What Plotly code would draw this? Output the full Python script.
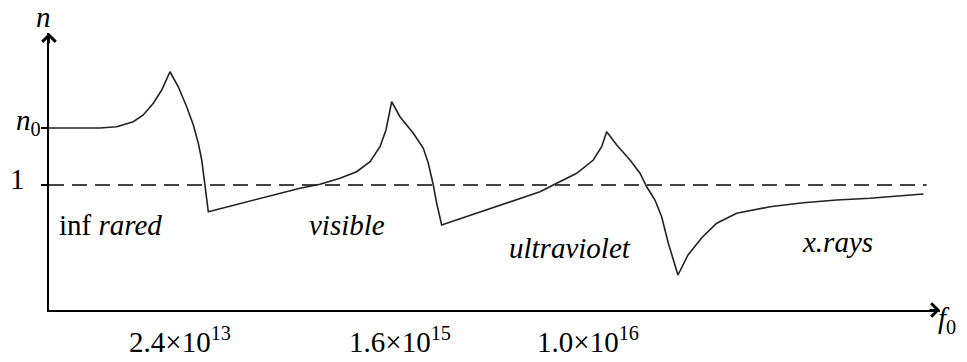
import plotly.graph_objects as go

# ---- data (arbitrary frequency units, refractive index n) ----
freq = [0, 5.72, 7.60, 9.46, 10.58, 11.71, 12.65, 13.58,
        14.51, 15.45, 16.20, 16.76, 17.14, 17.51, 17.88,
        28.17, 30.42, 32.66, 34.53, 36.03, 37.15, 37.82, 38.46,
        39.39, 40.89, 42.01, 42.57, 43.13, 43.51, 44.07,
        55.11, 56.98, 59.23, 61.09, 62.03, 62.59,
        63.72, 65.21, 66.33, 67.08, 68.01, 68.76, 69.51, 70.59,
        71.72, 73.29, 74.94, 77.18, 80.92, 84.66, 88.40, 92.14, 95.88, 98.13]
n_vals = [1.456, 1.456, 1.466, 1.506, 1.560, 1.654, 1.760, 1.906,
          1.786, 1.626, 1.480, 1.334, 1.200, 1.000, 0.786,
          0.974, 1.006, 1.054, 1.106, 1.186, 1.306, 1.440, 1.666,
          1.546, 1.414, 1.294, 1.174, 1.000, 0.854, 0.680,
          0.946, 1.014, 1.094, 1.200, 1.306, 1.426,
          1.320, 1.200, 1.094, 0.986, 0.880, 0.746, 0.534, 0.280,
          0.440, 0.580, 0.694, 0.774, 0.826, 0.858, 0.880, 0.894, 0.912, 0.928]

n0 = 1.456
unity = 1.0
dash_end = 98.5

tick_pos = [14.7, 39.4, 60.5]
tick_text = ["2.4×10<sup>13</sup>", "1.6×10<sup>15</sup>", "1.0×10<sup>16</sup>"]

regions = ["inf <i>rared</i>", "<i>visible</i>", "<i>ultraviolet</i>", "<i>x.rays</i>"]
region_x = [0.9, 33.45, 58.47, 88.44]
region_y = [0.68, 0.68, 0.496, 0.544]
region_anchor = ["left", "center", "center", "center"]

FONT = "Liberation Serif"
FS = 29

fig = go.Figure()
fig.add_trace(go.Scatter(x=[0, dash_end], y=[unity, unity], mode="lines",
                         line=dict(color="#444444", width=2, dash="15px,8px"),
                         hoverinfo="skip", showlegend=False))
fig.add_trace(go.Scatter(x=freq, y=n_vals, mode="lines",
                         line=dict(color="#222222", width=1.6),
                         showlegend=False, cliponaxis=False))

annotations = []
for t, x, y, a in zip(regions, region_x, region_y, region_anchor):
    annotations.append(dict(x=x, y=y, xref="x", yref="y", text=t, showarrow=False,
                            xanchor=a, yanchor="middle",
                            font=dict(family=FONT, size=FS, color="black")))
# axis labels
annotations.append(dict(x=0, y=2.216, xref="x", yref="y", text="<i>n</i>", showarrow=False,
                        xanchor="center", yanchor="bottom", xshift=-6, yshift=-2,
                        font=dict(family=FONT, size=FS, color="black")))
annotations.append(dict(x=100, y=0, xref="x", yref="y", text="<i>f</i><sub>0</sub>", showarrow=False,
                        xanchor="left", yanchor="middle", xshift=-4, yshift=-10,
                        font=dict(family=FONT, size=FS, color="black")))
annotations.append(dict(x=0, y=n0, xref="x", yref="y", text="<i>n</i><sub>0</sub>", showarrow=False,
                        xanchor="right", yanchor="middle", xshift=-6, yshift=6,
                        font=dict(family=FONT, size=FS, color="black")))
annotations.append(dict(x=0, y=unity, xref="x", yref="y", text="1", showarrow=False,
                        xanchor="right", yanchor="middle", xshift=-22, yshift=6,
                        font=dict(family=FONT, size=FS, color="black")))
# arrow heads on axes
annotations.append(dict(x=100, y=0, xref="x", yref="y", ax=-12, ay=0, text="", showarrow=True,
                        arrowhead=4, arrowsize=1.3, arrowwidth=2, arrowcolor="black"))
annotations.append(dict(x=0, y=2.216, xref="x", yref="y", ax=0, ay=12, text="", showarrow=True,
                        arrowhead=4, arrowsize=1.3, arrowwidth=2, arrowcolor="black"))

# page body has an 8px default margin, so the figure is 8px smaller and margins shifted
fig.update_layout(
    width=959, height=354,
    margin=dict(l=41, r=27, t=25, b=52),
    plot_bgcolor="white", paper_bgcolor="white",
    annotations=annotations,
    xaxis=dict(range=[0, 100], showgrid=False, zeroline=False, showline=True,
               linecolor="black", linewidth=2, tickvals=tick_pos, ticktext=tick_text,
               ticks="", automargin=False, ticklabelstandoff=5,
               tickfont=dict(family=FONT, size=FS, color="black")),
    yaxis=dict(range=[0, 2.216], showgrid=False, zeroline=False, showline=True,
               linecolor="black", linewidth=2, tickvals=[unity, n0], ticktext=["", ""],
               ticks="outside", ticklen=6, tickwidth=2, tickcolor="black", automargin=False),
)

fig.write_html("out.html")
